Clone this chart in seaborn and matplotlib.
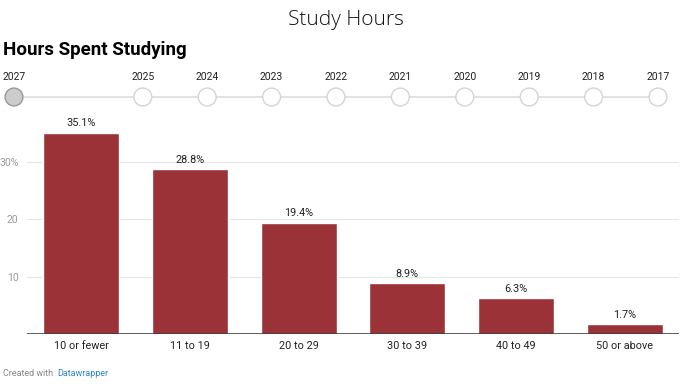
import matplotlib.pyplot as plt
import pandas as pd
import seaborn as sns

categories = ["10 or fewer", "11 to 19", "20 to 29", "30 to 39", "40 to 49", "50 or above"]
shares = [35.1, 28.8, 19.4, 8.9, 6.3, 1.7]
years = [2027, 2025, 2024, 2023, 2022, 2021, 2020, 2019, 2018, 2017]
selected_year = 2027
y_ticks = [10, 20, 30]
y_tick_labels = ["10", "20", "30%"]

BAR = "#9b3237"
W, H = 692, 384

sns.set_style("white")
plt.rcParams["font.family"] = ["Roboto", "DejaVu Sans"]

fig = plt.figure(figsize=(W / 100, H / 100), dpi=100)

# bar chart
ax = fig.add_axes([27 / W, (H - 334) / H, (679 - 27) / W, (334 - 115) / H])
df = pd.DataFrame({"group": categories, "share": shares})
sns.barplot(data=df, x="group", y="share", color=BAR, saturation=1, width=0.7, ax=ax)
ax.bar_label(ax.containers[0], fmt="%.1f%%", padding=3, fontsize=7.8, color="#222222")
ax.set_xlim(-0.5, len(categories) - 0.5)
ax.set_ylim(0, (334 - 115) / 5.74)
ax.set_yticks(y_ticks)
ax.set_yticklabels(y_tick_labels)
ax.yaxis.grid(True, color="#e6e6e6", linewidth=0.8)
ax.set_axisbelow(True)
ax.axhline(0, color="#333333", linewidth=1.1, zorder=5)
ax.tick_params(axis="y", length=0, pad=6, labelsize=7.5, labelcolor="#9a9a9a")
ax.tick_params(axis="x", length=0, pad=5, labelsize=7.8, labelcolor="#222222")
ax.set_xlabel("")
ax.set_ylabel("")
sns.despine(ax=ax, left=True, bottom=True)

# year selector timeline
tl = fig.add_axes([0, (H - 110) / H, 1, 45 / H])
tl.set_xlim(2027 + 14 / 64.4, 2027 - (W - 14) / 64.4)
tl.set_ylim(0, 45)
tl.plot([max(years), min(years)], [13, 13], color="#dddddd", linewidth=1.2, zorder=1)
face = ["#cccccc" if y == selected_year else "white" for y in years]
edge = ["#999999" if y == selected_year else "#d4d4d4" for y in years]
tl.scatter(years, [13] * len(years), s=165, c=face, edgecolors=edge, linewidths=1, zorder=2)
for y in years:
    tl.text(y, 33, str(y), ha="center", va="center", fontsize=7.5, color="#222222")
tl.axis("off")

fig.text(0.5, 1 - 20 / H, "Study Hours", ha="center", va="center",
         fontsize=15, fontweight="light", color="#111111",
         family=["Open Sans", "DejaVu Sans"])
fig.text(3 / W, 1 - 50 / H, "Hours Spent Studying", ha="left", va="center",
         fontsize=13.5, fontweight="bold", color="#000000")
fig.text(3 / W, 1 - 373 / H, "Created with", ha="left", va="center",
         fontsize=6.5, color="#888888")
fig.text(57 / W, 1 - 373 / H, "Datawrapper", ha="left", va="center",
         fontsize=6.5, color="#2f86cf")

fig.savefig("out.png", dpi=100)
